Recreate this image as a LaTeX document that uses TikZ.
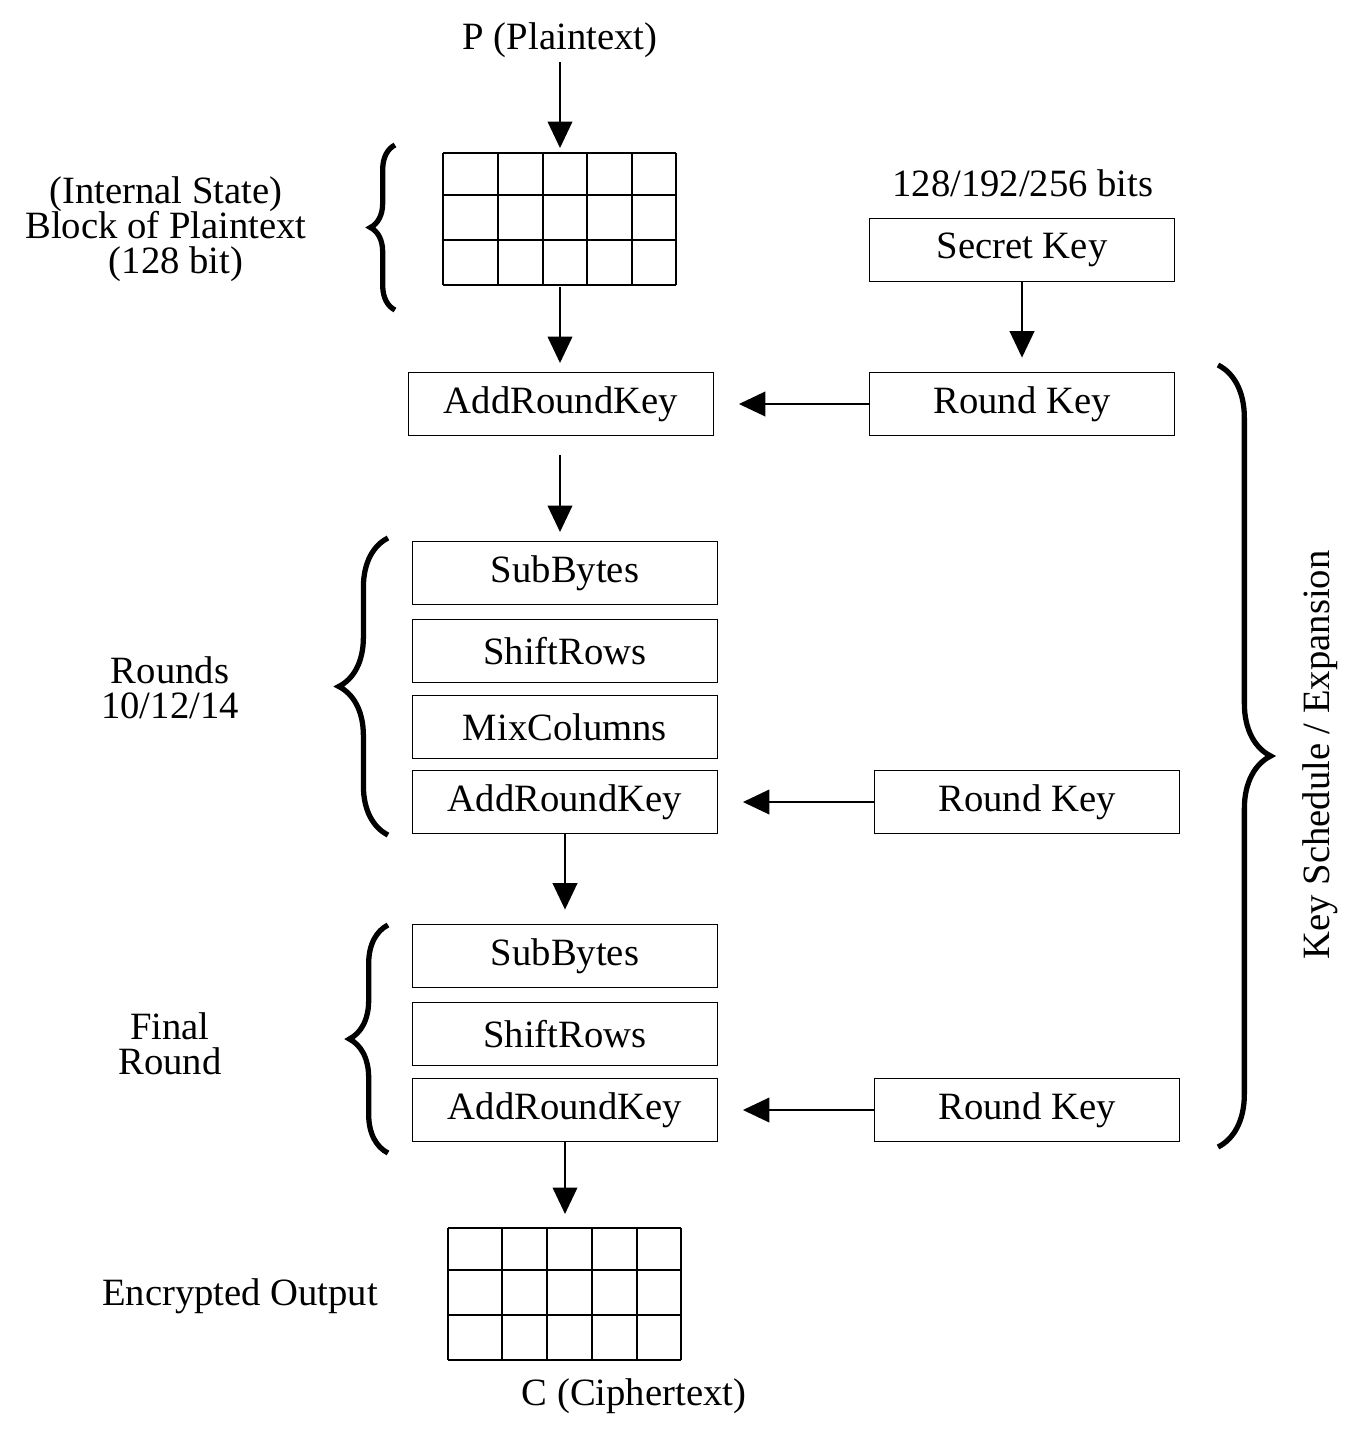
\documentclass[tikz,border=0pt]{standalone}
\usepackage{fontspec}
\setmainfont{Liberation Serif}
\usetikzlibrary{arrows.meta,decorations.pathreplacing}
\begin{document}
\begin{tikzpicture}[x=0.02cm,y=-0.02cm,font=\fontsize{22}{24}\selectfont,
  box/.style={draw,line width=1pt,minimum width=6.1cm,minimum height=1.26cm,inner sep=0pt},
  arr/.style={line width=1pt,-{Triangle[length=15pt,width=14pt]},shorten >=8pt},
  brc/.style={decorate,decoration={brace,amplitude=#1},line width=3pt}]
\useasboundingbox (0,0) rectangle (1353,1431);
\node (p) at (560,40) {P (Plaintext)};
\foreach \x in {443,498,543,587,632,676} \draw[line width=1pt] (\x,153)--(\x,285);
\foreach \y in {153,195,240,285} \draw[line width=1pt] (443,\y)--(676,\y);
\coordinate (g1t) at (560,148); \coordinate (g1b) at (560,287);
\node[align=center] (is) at (166,229) {(Internal State)\\[-4pt]Block of Plaintext\\[-4pt]\hspace*{0.4cm}(128 bit)};
\draw[brc=14pt] (395,310)--(395,145);
\node (bits) at (1023,183) {128/192/256 bits};
\node[box] (sk) at (1022,250) {Secret Key};
\node[box] (ark1) at (561,404) {AddRoundKey};
\node[box] (rk1) at (1022,404) {Round Key};
\node[box] (sb1) at (565,573) {SubBytes};
\node[box] (sr1) at (565,651) {ShiftRows};
\node[box] (mc) at (565,727) {MixColumns};
\node[box] (ark2) at (565,802) {AddRoundKey};
\node[box] (rk2) at (1027,802) {Round Key};
\node[box] (sb2) at (565,956) {SubBytes};
\node[box] (sr2) at (565,1034) {ShiftRows};
\node[box] (ark3) at (565,1110) {AddRoundKey};
\node[box] (rk3) at (1027,1110) {Round Key};
\foreach \x in {448,502,547,592,637,681} \draw[line width=1pt] (\x,1228)--(\x,1360);
\foreach \y in {1228,1270,1315,1360} \draw[line width=1pt] (448,\y)--(681,\y);
\coordinate (g2t) at (565,1228);
\node (c) at (634,1396) {C (Ciphertext)};
\node (eo) at (240,1296) {Encrypted Output};
\node[align=center] (rounds) at (170,688) {Rounds\\[-4pt]10/12/14};
\node[align=center] (fr) at (170,1044) {Final\\[-4pt]Round};
\draw[brc=28pt] (388,835)--(388,538);
\draw[brc=22pt] (388,1153)--(388,925);
\draw[brc=30pt] (1218,365)--(1218,1147);
\node[rotate=90] (ks) at (1320,755) {Key Schedule / Expansion};
\draw[arr,shorten >=0pt] (560,62)--(g1t);
\draw[arr,shorten >=0pt] (g1b)--(560,363);
\draw[arr] (sk)--(rk1);
\draw[arr,shorten >=14pt] (rk1)--(ark1);
\draw[arr,shorten >=0pt] (560,455)--(560,532);
\draw[arr] (ark2)--(sb2);
\draw[arr,shorten >=14pt] (rk2)--(ark2);
\draw[arr,shorten >=8pt] (ark3)--(g2t);
\draw[arr,shorten >=14pt] (rk3)--(ark3);
\end{tikzpicture}
\end{document}
